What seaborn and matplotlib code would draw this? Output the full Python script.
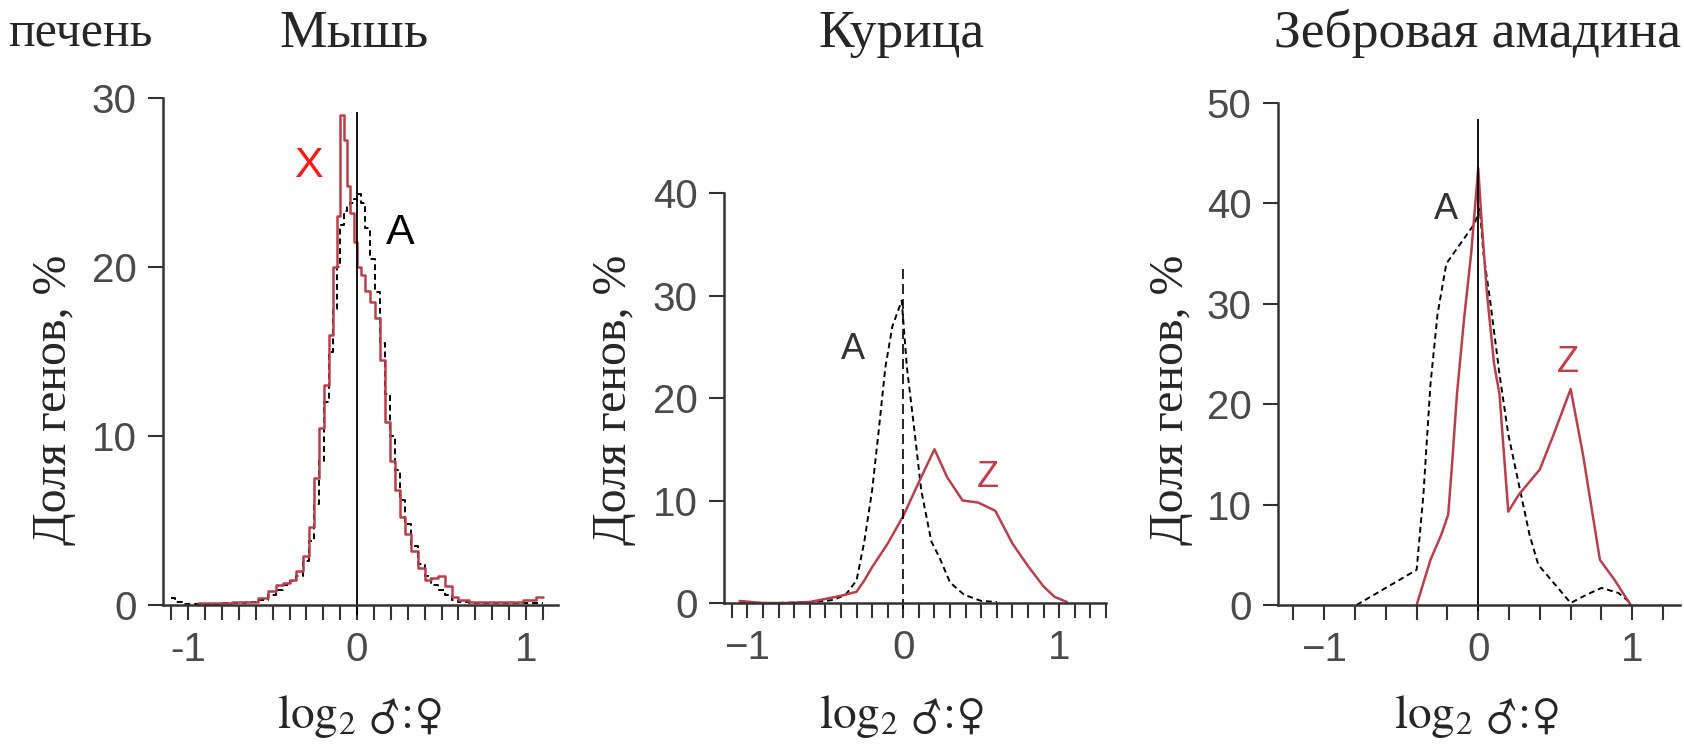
import numpy as np
import seaborn as sns
import matplotlib
matplotlib.use('Agg')
import matplotlib.pyplot as plt
from matplotlib.ticker import MultipleLocator

# Мышь (печень): X и A
mouse_x_pos = [-0.94, -0.86, -0.78, -0.70, -0.62, -0.56, -0.50, -0.46, -0.42, -0.38,
               -0.34, -0.30, -0.27, -0.24, -0.21, -0.18, -0.15, -0.13, -0.11, -0.09,
               -0.07, -0.05, -0.03, -0.01, 0.01, 0.03, 0.06, 0.09, 0.12, 0.15,
               0.18, 0.21, 0.24, 0.27, 0.30, 0.34, 0.38, 0.42, 0.46, 0.50,
               0.54, 0.58, 0.62, 0.70, 0.78, 0.86, 0.94, 1.02, 1.10]
mouse_x_val = [0.1, 0.1, 0.1, 0.2, 0.2, 0.4, 0.8, 1.2, 1.3, 1.5,
               2.0, 2.9, 4.6, 7.5, 10.5, 13.0, 16.0, 20.0, 23.0, 29.0,
               27.5, 24.8, 23.2, 21.5, 20.0, 19.5, 18.6, 17.9, 17.0, 14.5,
               10.8, 8.5, 6.8, 5.2, 4.2, 3.2, 2.2, 1.5, 1.6, 1.7,
               1.1, 0.5, 0.3, 0.2, 0.2, 0.2, 0.2, 0.3, 0.5]
mouse_a_pos = [-1.10, -1.06, -1.02, -0.94, -0.86, -0.78, -0.70, -0.62, -0.56, -0.50,
               -0.46, -0.42, -0.38, -0.34, -0.30, -0.27, -0.24, -0.21, -0.18, -0.15,
               -0.13, -0.11, -0.09, -0.07, -0.05, -0.03, -0.01, 0.01, 0.03, 0.06,
               0.09, 0.12, 0.15, 0.18, 0.21, 0.24, 0.27, 0.30, 0.34, 0.38,
               0.42, 0.46, 0.50, 0.54, 0.58, 0.62, 0.70, 0.78, 0.86, 0.94, 1.02, 1.10]
mouse_a_val = [0.4, 0.2, 0.05, 0.05, 0.05, 0.1, 0.1, 0.2, 0.3, 0.6,
               0.9, 1.2, 1.4, 1.7, 2.6, 3.8, 6.0, 8.5, 12.0, 15.0,
               17.5, 20.0, 22.5, 23.3, 23.6, 23.8, 24.0, 24.3, 23.8, 22.3,
               20.5, 18.5, 15.5, 12.5, 10.0, 8.0, 6.2, 4.8, 3.5, 2.4,
               1.7, 1.2, 0.9, 0.6, 0.3, 0.2, 0.1, 0.1, 0.1, 0.1, 0.1, 0.1]

# Курица: Z и A
chick_z_pos = [-1.05, -0.9, -0.75, -0.6, -0.5, -0.4, -0.3, -0.25, -0.2, -0.1, 0.0,
               0.1, 0.2, 0.28, 0.38, 0.48, 0.59, 0.7, 0.8, 0.9, 0.97, 1.05]
chick_z_val = [0.2, 0.0, 0.0, 0.1, 0.4, 0.7, 1.1, 2.2, 3.5, 5.8, 8.5,
               11.8, 15.0, 12.3, 10.0, 9.8, 9.0, 5.8, 3.6, 1.6, 0.6, 0.1]
chick_a_pos = [-1.05, -0.8, -0.6, -0.5, -0.45, -0.37, -0.3, -0.25, -0.2, -0.16, -0.115,
               -0.07, -0.01, 0.023, 0.07, 0.115, 0.18, 0.23, 0.3, 0.39, 0.5, 0.6]
chick_a_val = [0.0, 0.0, 0.1, 0.2, 0.3, 0.8, 2.2, 6.0, 11.0, 16.5, 23.0,
               27.0, 29.5, 23.0, 17.0, 11.0, 6.0, 4.5, 2.0, 0.8, 0.2, 0.1]

# Зебровая амадина: Z и A
finch_a_pos = [-0.79, -0.4, -0.356, -0.31, -0.264, -0.207, -0.115, -0.023, 0.01, 0.034, 0.08,
               0.138, 0.195, 0.264, 0.333, 0.39, 0.49, 0.6, 0.7, 0.8, 0.91, 0.99]
finch_a_val = [0.0, 3.5, 11.0, 22.0, 29.0, 34.0, 36.0, 38.0, 39.5, 35.0, 30.0,
               23.0, 17.0, 12.0, 7.0, 4.0, 2.2, 0.2, 1.0, 1.7, 1.2, 0.2]
finch_z_pos = [-0.4, -0.31, -0.24, -0.195, -0.17, -0.138, -0.092, -0.046, 0.0, 0.023, 0.057,
               0.103, 0.138, 0.195, 0.264, 0.4, 0.49, 0.6, 0.68, 0.79, 0.885, 0.99]
finch_z_val = [0.0, 4.5, 7.0, 9.0, 14.0, 21.0, 28.5, 35.0, 43.5, 38.0, 31.0,
               24.0, 21.0, 9.3, 11.0, 13.5, 17.0, 21.5, 15.0, 4.5, 2.5, 0.0]

titles = ['Мышь', 'Курица', 'Зебровая амадина']
ylab = 'Доля генов, %'
xlab = r'$\mathrm{log}_2\ ♂\!:\!♀$'

RED = '#b8404c'
GREY = '#4a4a4a'
SERIF = ['Liberation Serif', 'DejaVu Serif']
SANS = ['Liberation Sans', 'DejaVu Sans']

sns.set_style('ticks')
plt.rcParams['font.family'] = SANS
plt.rcParams['mathtext.fontset'] = 'stix'

fig = plt.figure(figsize=(16.84, 7.44), dpi=100)
W, H = 1684, 744


def make_ax(l, r, top, bot):
    return fig.add_axes([l / W, (H - bot) / H, (r - l) / W, (bot - top) / H])


ax1 = make_ax(163, 558, 98, 605)
ax2 = make_ax(724, 1106, 193, 603)
ax3 = make_ax(1278, 1680, 103, 605)

# линии
sns.lineplot(x=mouse_a_pos, y=mouse_a_val, ax=ax1, color='black', linewidth=1.4,
             linestyle=(0, (3, 2)), drawstyle='steps-mid', clip_on=False)
sns.lineplot(x=mouse_x_pos, y=mouse_x_val, ax=ax1, color=RED, linewidth=1.8,
             drawstyle='steps-mid', clip_on=False)
sns.lineplot(x=chick_a_pos, y=chick_a_val, ax=ax2, color='black', linewidth=1.4,
             linestyle=(0, (3, 2)), clip_on=False)
sns.lineplot(x=chick_z_pos, y=chick_z_val, ax=ax2, color=RED, linewidth=1.8, clip_on=False)
sns.lineplot(x=finch_a_pos, y=finch_a_val, ax=ax3, color='black', linewidth=1.4,
             linestyle=(0, (3, 2)), clip_on=False)
sns.lineplot(x=finch_z_pos, y=finch_z_val, ax=ax3, color=RED, linewidth=1.8, clip_on=False)

# вертикальные линии на нуле
ax1.vlines(0, -0.6, 29.2, color='black', linewidth=1.3, clip_on=False)
ax2.vlines(0, -0.6, 32.7, color='black', linewidth=1.2, linestyles=(0, (6, 3)), clip_on=False)
ax3.vlines(0, -0.6, 48.4, color='black', linewidth=1.3, clip_on=False)

setup = [
    (ax1, (-1.15, 1.19), 30, 0.1, ['-1', '0', '1']),
    (ax2, (-1.15, 1.30), 40, 0.1, ['\u22121', '0', '1']),
    (ax3, (-1.30, 1.31), 50, 0.2, ['\u22121', '0', '1']),
]
for ax, xl, ytop, minor, labs in setup:
    ax.set_xlim(*xl)
    ax.set_ylim(0, ytop)
    ax.set_xticks([-1, 0, 1])
    ax.set_xticklabels(labs)
    ax.xaxis.set_minor_locator(MultipleLocator(minor))
    ax.set_yticks(np.arange(0, ytop + 1, 10))
    ax.tick_params(which='both', direction='out', length=11, width=1.5,
                   color='#333333', labelcolor=GREY, labelsize=29, pad=8)
    for s in ['left', 'bottom']:
        ax.spines[s].set_linewidth(1.8)
        ax.spines[s].set_color('#333333')
    sns.despine(ax=ax)
    ax.set_xlabel('')
    ax.set_ylabel('')

# подписи кривых
ax1.text(-0.29, 26.0, 'X', color='#ff1a1a', fontsize=31, ha='center', va='center')
ax1.text(0.254, 22.0, 'A', color='black', fontsize=31, ha='center', va='center')
ax2.text(-0.32, 24.7, 'A', color='#333333', fontsize=26, ha='center', va='center')
ax2.text(0.54, 12.2, 'Z', color='#c0404a', fontsize=26, ha='center', va='center')
ax3.text(-0.21, 39.4, 'A', color='#333333', fontsize=26, ha='center', va='center')
ax3.text(0.58, 24.2, 'Z', color='#c0404a', fontsize=26, ha='center', va='center')

# заголовки
fig.text(80 / W, 1 - 34 / H, 'печень', family=SERIF, fontsize=36, ha='center', va='center')
for cx, t in zip([354, 902, 1477], titles):
    fig.text(cx / W, 1 - 34 / H, t, family=SERIF, fontsize=38.5, ha='center', va='center')

# подписи осей
for cx in [54, 614, 1171]:
    fig.text(cx / W, 1 - 400 / H, ylab, family=SERIF, fontsize=34.5, rotation=90,
             ha='center', va='center')
for cx in [360, 902, 1477]:
    fig.text(cx / W, 1 - 717 / H, xlab, family=SERIF, fontsize=34,
             ha='center', va='center')

fig.savefig('out.png', dpi=100)
